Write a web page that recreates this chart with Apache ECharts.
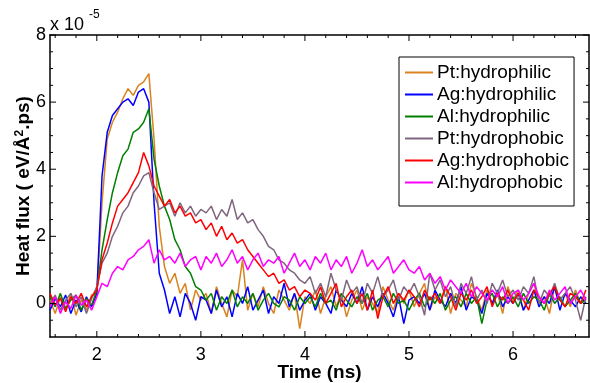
<!DOCTYPE html>
<html lang="en">
<head>
    <meta charset="UTF-8">
    <title>Heat flux</title>
    <style>
        html, body { margin: 0; padding: 0; background: #fff; }
        #chart { width: 590px; height: 383px; }
    </style>
</head>
<body>
<div id="chart"></div>
<script src="https://cdn.jsdelivr.net/npm/echarts@6/dist/echarts.min.js"></script>
<script>
    // time (ns)
    var time = [1.55, 1.60, 1.65, 1.70, 1.75, 1.80, 1.85, 1.90, 1.95, 2.00,
        2.05, 2.10, 2.15, 2.20, 2.25, 2.30, 2.35, 2.40, 2.45, 2.50,
        2.55, 2.60, 2.65, 2.70, 2.75, 2.80, 2.85, 2.90, 2.95, 3.00,
        3.05, 3.10, 3.15, 3.20, 3.25, 3.30, 3.35, 3.40, 3.45, 3.50,
        3.55, 3.60, 3.65, 3.70, 3.75, 3.80, 3.85, 3.90, 3.95, 4.00,
        4.05, 4.10, 4.15, 4.20, 4.25, 4.30, 4.35, 4.40, 4.45, 4.50,
        4.55, 4.60, 4.65, 4.70, 4.75, 4.80, 4.85, 4.90, 4.95, 5.00,
        5.05, 5.10, 5.15, 5.20, 5.25, 5.30, 5.35, 5.40, 5.45, 5.50,
        5.55, 5.60, 5.65, 5.70, 5.75, 5.80, 5.85, 5.90, 5.95, 6.00,
        6.05, 6.10, 6.15, 6.20, 6.25, 6.30, 6.35, 6.40, 6.45, 6.50,
        6.55, 6.60, 6.65, 6.70];

    // heat flux (x 1e-5 eV/A^2.ps)
    var ptPhilic = [0.1, -0.3, 0.2, -0.2, 0.3, -0.35, 0.1, -0.2, 0.25, 0.3,
        3.0, 4.9, 5.4, 5.7, 6.1, 6.4, 6.2, 6.5, 6.6, 6.85,
        4.9, 2.3, 1.1, 0.6, 0.9, 0.3, 0.6, -0.2, 0.4, 0.1,
        0.3, -0.3, 0.5, 0.0, -0.4, 0.4, 0.2, 1.3, -0.2, 0.3, -0.1, 0.5, 0.0, -0.3, 0.4, 0.1, -0.2, 0.3, -0.75, 0.2,
        0.0, 0.4, -0.3, 0.2, 0.5, -0.1, 0.3, -0.4, 0.1, 0.4, -0.2, 0.2, 0.0, -0.3, 0.5, 0.1, -0.2, 0.3, 0.0, 0.4,
        -0.1, 0.3, 0.6, -0.2, 0.2, 0.0, 0.5, -0.3, 0.3, 0.1, -0.1, 0.6, 0.2, -0.2, 0.4, 0.0, 0.3, -0.3, 0.5, 0.1,
        0.4, -0.2, 0.3, 0.6, 0.0, 0.2, -0.3, 0.5, 0.1, 0.3, -0.1, 0.4, 0.0, 0.2];
    var agPhilic = [-0.2, 0.15, -0.1, 0.25, -0.3, 0.1, -0.25, 0.2, -0.1, 0.3,
        3.8, 5.1, 5.6, 5.8, 6.0, 6.1, 5.9, 6.3, 6.4, 6.0,
        3.0, 0.9, 0.4, -0.3, 0.2, -0.4, 0.3, 0.0, -0.5, 0.2,
        0.1, -0.3, 0.4, -0.1, 0.2, -0.4, 0.3, 0.0, 0.5, -0.2, 0.1, 0.4, -0.3, 0.2, 0.0, 0.6, -0.1, 0.3, -0.2, 0.1,
        0.3, -0.2, 0.2, 0.0, -0.3, 0.4, 0.1, -0.1, 0.3, 0.0, 0.5, -0.2, 0.2, -0.1, 0.3, 0.0, -0.4, 0.2, -0.6, 0.1,
        0.2, 0.0, 0.3, -0.2, 0.4, 0.1, -0.1, 0.3, 0.0, 0.5, -0.2, 0.2, 0.1, -0.3, 0.3, 0.0, 0.4, -0.1, 0.2, 0.0,
        0.3, -0.2, 0.1, 0.4, -0.1, 0.2, 0.0, 0.5, -0.2, 0.3, 0.1, -0.1, 0.2, 0.0];
    var alPhilic = [0.2, -0.1, 0.3, -0.15, 0.1, 0.25, -0.2, 0.15, -0.05, 0.4,
        1.6, 2.5, 3.3, 3.9, 4.4, 4.6, 5.1, 5.2, 5.4, 5.8,
        4.3, 3.5, 2.9, 2.5, 1.9, 1.6, 1.1, 0.9, 0.5, 0.4,
        0.1, 0.3, -0.2, 0.2, 0.0, 0.4, -0.1, 0.2, 0.0, 0.3, -0.2, 0.1, 0.3, 0.0, -0.1, 0.2, 0.1, -0.2, 0.2, 0.0,
        0.2, -0.1, 0.3, 0.0, 0.1, -0.2, 0.3, 0.1, -0.1, 0.2, 0.0, 0.3, -0.2, 0.1, 0.2, -0.1, 0.3, 0.0, 0.1, -0.2,
        0.1, 0.3, -0.1, 0.2, 0.0, 0.3, -0.2, 0.1, 0.2, -0.1, 0.3, 0.0, 0.2, -0.6, 0.1, 0.3, -0.1, 0.2, 0.0, 0.2,
        -0.1, 0.3, 0.0, 0.2, 0.1, -0.2, 0.3, 0.0, 0.2, -0.1, 0.1, 0.3, 0.0, 0.1];
    var ptPhobic = [0.0, 0.25, -0.2, 0.1, 0.3, -0.1, 0.2, -0.3, 0.15, 0.5,
        1.2, 1.5, 2.0, 2.3, 2.7, 2.9, 3.3, 3.5, 3.8, 3.9,
        3.3, 2.8, 2.9, 3.0, 2.6, 3.0, 2.7, 2.9, 2.6, 2.8,
        2.7, 2.9, 2.5, 2.8, 2.6, 3.1, 2.5, 2.7, 2.4, 2.5, 2.2, 2.0, 1.7, 1.6, 1.3, 1.2, 1.0, 0.9, 0.7, 0.6,
        0.8, 0.3, 0.6, 0.2, 0.9, 0.4, 0.1, 0.7, 0.3, 0.5, 0.0, 0.6, 0.3, 0.8, 0.2, 0.4, 0.7, 0.1, 0.5, 0.3,
        0.6, 0.2, -0.35, 0.9, 0.4, 0.7, 0.2, 0.5, -0.1, 0.6, 0.3, 0.8, 0.1, 0.4, 0.0, 0.6, 0.3, 0.7, 0.2, 0.4,
        0.1, 0.5, 0.3, 0.8, 0.0, 0.4, 0.2, 0.6, 0.1, 0.3, 0.5, 0.1, -0.5, 0.2];
    var agPhobic = [0.3, -0.05, 0.15, -0.25, 0.2, 0.0, 0.3, -0.1, 0.2, 0.4,
        1.3, 1.8, 2.4, 2.9, 3.1, 3.3, 3.6, 3.9, 4.5, 4.1,
        3.5, 3.2, 2.9, 3.1, 2.7, 2.9, 2.6, 2.7, 2.4, 2.5,
        2.2, 2.4, 2.0, 2.3, 1.9, 2.1, 1.8, 1.9, 1.6, 1.4, 1.2, 1.0, 0.8, 0.9, 0.6, 0.7, 0.4, 0.5, 0.2, 0.4,
        0.3, 0.1, 0.5, 0.0, 0.3, 0.6, -0.1, 0.2, 0.4, 0.0, 0.3, -0.2, 0.4, -0.45, 0.2, 0.5, 0.0, 0.3, 0.1, 0.4,
        0.2, -0.1, 0.4, 0.1, 0.3, 0.0, 0.5, 0.2, -0.2, 0.3, 0.1, 0.4, 0.0, 0.2, 0.5, -0.1, 0.3, 0.1, 0.4, 0.0,
        0.3, 0.1, -0.2, 0.4, 0.2, 0.0, 0.3, 0.5, 0.1, -0.1, 0.3, 0.2, 0.0, 0.4];
    var alPhobic = [-0.1, 0.2, -0.3, 0.05, -0.15, 0.25, -0.05, 0.1, -0.2, 0.2,
        0.6, 0.5, 0.9, 1.1, 1.0, 1.3, 1.4, 1.6, 1.7, 1.9,
        1.2, 1.6, 1.3, 1.4, 1.2, 1.5, 1.1, 1.3, 1.4, 1.0,
        1.4, 1.2, 1.5, 1.1, 1.3, 1.6, 1.2, 1.4, 1.0, 1.3, 1.5, 1.1, 1.3, 1.2, 1.4, 0.9, 1.2, 1.5, 1.1, 1.3,
        1.0, 1.4, 1.2, 1.5, 1.0, 1.3, 1.1, 1.4, 0.9, 1.2, 1.6, 1.1, 1.3, 1.0, 1.2, 1.4, 0.9, 1.1, 1.3, 1.0,
        0.9, 1.1, 0.7, 0.9, 0.6, 0.8, 0.4, 0.7, 0.5, 0.3, 0.6, 0.2, 0.5, 0.3, 0.1, 0.4, 0.2, 0.5, 0.0, 0.3,
        0.4, 0.1, 0.3, 0.6, 0.2, 0.0, 0.4, 0.1, 0.3, 0.5, 0.0, 0.2, 0.4, 0.1];

    var names = ['Pt:hydrophilic', 'Ag:hydrophilic', 'Al:hydrophilic',
        'Pt:hydrophobic', 'Ag:hydrophobic', 'Al:hydrophobic'];
    var colors = ['#D9821E', '#0000FF', '#007F00', '#7F667F', '#FF0000', '#FF00FF'];
    var values = [ptPhilic, agPhilic, alPhilic, ptPhobic, agPhobic, alPhobic];

    var xMajor = [2, 3, 4, 5, 6];
    var xMinor = [1.6, 1.8, 2.2, 2.4, 2.6, 2.8, 3.2, 3.4, 3.6, 3.8, 4.2, 4.4, 4.6, 4.8,
        5.2, 5.4, 5.6, 5.8, 6.2, 6.4, 6.6];
    var yMajor = [0, 2, 4, 6, 8];
    var yMinor = [-0.5, 0.5, 1, 1.5, 2.5, 3, 3.5, 4.5, 5, 5.5, 6.5, 7, 7.5];

    var font = 'Liberation Sans, Arial, sans-serif';
    var xMin = 1.55, xMax = 6.73, yMin = -1, yMax = 8;

    var frameAxis = function (pos, min, max, labels, extra) {
        var ax = {
            type: 'value', position: pos, min: min, max: max,
            axisLine: {show: true, onZero: false, lineStyle: {color: '#000', width: 1.5}},
            axisTick: {show: false},
            axisLabel: {show: labels, customValues: labels ? (pos === 'bottom' ? xMajor : yMajor) : undefined,
                color: '#000', fontSize: 18, fontFamily: font, margin: 4},
            splitLine: {show: false}
        };
        return Object.assign(ax, extra || {});
    };

    var xAxes = [
        frameAxis('bottom', xMin, xMax, true, {
            name: 'Time (ns)', nameLocation: 'middle', nameGap: 26, nameMoveOverlap: false,
            nameTextStyle: {color: '#000', fontSize: 19, fontWeight: 'bold', fontFamily: font}
        }),
        frameAxis('top', xMin, xMax, false)
    ];
    xAxes[0].axisLabel.margin = 9;

    var yAxes = [
        frameAxis('left', yMin, yMax, true, {
            name: '{t|Heat flux ( eV/Å}{s|2}{t|.ps)}', nameLocation: 'middle', nameGap: 17,
            nameMoveOverlap: false,
            nameTextStyle: {
                color: '#000', fontFamily: font,
                rich: {
                    t: {fontSize: 19, fontWeight: 'bold', fontFamily: font, color: '#000'},
                    s: {fontSize: 12, fontWeight: 'bold', fontFamily: font, color: '#000', verticalAlign: 'top'}
                }
            }
        }),
        frameAxis('right', yMin, yMax, false)
    ];

    // inward ticks on all four sides, placed through the axes' own scales
    var tickSeries = function (ticks, len, vertical) {
        return {
            type: 'custom',
            silent: true,
            z: 5,
            clip: false,
            data: ticks.map(function (v) { return vertical ? [v, 0] : [2, v]; }),
            renderItem: function (params, api) {
                var v = vertical ? api.value(0) : api.value(1);
                var a, b, lines;
                var st = {stroke: '#000', lineWidth: 1};
                if (vertical) {
                    a = api.coord([v, yMin]);
                    b = api.coord([v, yMax]);
                    lines = [
                        {type: 'line', shape: {x1: a[0], y1: a[1], x2: a[0], y2: a[1] - len}, style: st},
                        {type: 'line', shape: {x1: b[0], y1: b[1], x2: b[0], y2: b[1] + len}, style: st}
                    ];
                } else {
                    a = api.coord([xMin, v]);
                    b = api.coord([xMax, v]);
                    lines = [
                        {type: 'line', shape: {x1: a[0], y1: a[1], x2: a[0] + len, y2: a[1]}, style: st},
                        {type: 'line', shape: {x1: b[0], y1: b[1], x2: b[0] - len, y2: b[1]}, style: st}
                    ];
                }
                return {type: 'group', children: lines};
            }
        };
    };

    var series = names.map(function (name, k) {
        return {
            name: name,
            type: 'line',
            symbol: 'none',
            lineStyle: {color: colors[k], width: 1.5},
            itemStyle: {color: colors[k]},
            data: time.map(function (t, i) { return [t, values[k][i]]; })
        };
    });
    series.push(tickSeries(xMajor, 6, true), tickSeries(xMinor, 3, true),
        tickSeries(yMajor, 6, false), tickSeries(yMinor, 3, false));

    var option = {
        animation: false,
        grid: {left: 50, right: 1, top: 35, bottom: 46, containLabel: false, outerBoundsMode: 'none'},
        xAxis: xAxes,
        yAxis: yAxes,
        legend: {
            data: names,
            orient: 'vertical',
            left: 399,
            top: 57,
            backgroundColor: '#fff',
            borderColor: '#000',
            borderWidth: 1,
            padding: [6, 5, 14, 6],
            itemGap: 3,
            itemWidth: 28,
            itemHeight: 2,
            icon: 'rect',
            textStyle: {color: '#000', fontSize: 19, fontFamily: font, padding: [0, 0, 0, -1]}
        },
        graphic: [
            {type: 'text', left: 50, top: 16, style: {text: 'x 10', fontSize: 18, fontFamily: font, fill: '#000'}},
            {type: 'text', left: 89, top: 9, style: {text: '-5', fontSize: 12, fontFamily: font, fill: '#000'}}
        ],
        series: series
    };

    var myChart = echarts.init(document.getElementById('chart'));
    myChart.setOption(option);
</script>
</body>
</html>
